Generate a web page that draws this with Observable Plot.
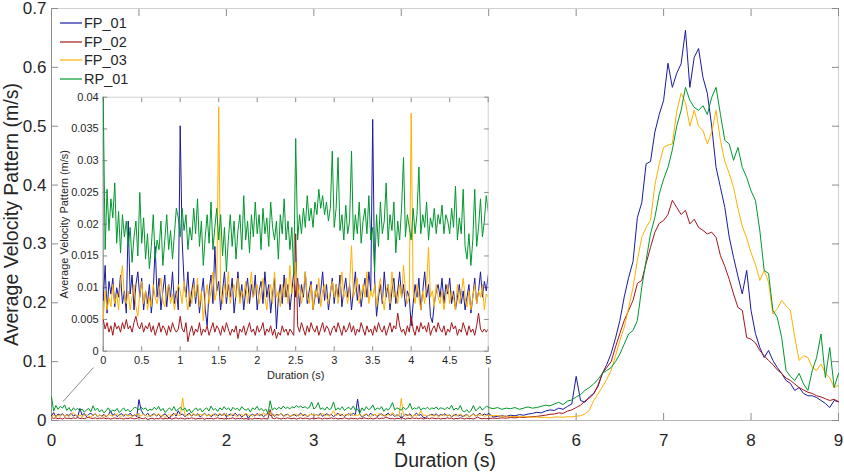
<!DOCTYPE html>
<html><head><meta charset="utf-8">
<script src="https://cdn.jsdelivr.net/npm/d3@7"></script>
<script src="https://cdn.jsdelivr.net/npm/@observablehq/plot@0.6"></script>
<style>
body{margin:0;background:#fff;font-family:"Liberation Sans",Arial,sans-serif;}
#wrap{position:relative;width:844px;height:473px;overflow:hidden;}
#wrap svg{position:absolute;overflow:visible;}
</style></head><body><div id="wrap"></div>
<script>
const seriesNames = ["FP_01","FP_02","FP_03","RP_01"];
const seriesColors = ["#1a1a9e","#a3161b","#ffb000","#00972e"];

// 0–5 s, every 0.025 s
const fp01Fine = [
0.008,0.0135,0.006,0.011,0.009,0.0115,0.007,0.010,0.0085,0.012,0.0075,0.0095,0.006,0.0205,0.009,0.012,0.0065,0.0105,0.0125,0.0085,
0.0115,0.0065,0.0095,0.0075,0.0105,0.006,0.0095,0.0165,0.0085,0.0115,0.0065,0.0095,0.012,0.007,0.0105,0.0085,0.0125,0.0075,0.0095,0.0065,
0.0355,0.0175,0.011,0.0085,0.0125,0.007,0.0095,0.0115,0.0075,0.0105,0.006,0.009,0.0115,0.0065,0.004,0.0095,0.012,0.0075,0.0165,0.0095,
0.011,0.0065,0.0095,0.0125,0.0075,0.0105,0.0085,0.0115,0.006,0.009,0.0125,0.008,0.0105,0.0065,0.0095,0.0115,0.0075,0.0105,0.0085,0.012,
0.0065,0.0095,0.011,0.0075,0.0125,0.0085,0.0105,0.006,0.009,0.0115,0.0035,0.0085,0.0105,0.0075,0.012,0.0085,0.0105,0.0065,0.0095,0.0125,
0.0085,0.0115,0.007,0.0105,0.0085,0.0125,0.0075,0.0095,0.011,0.0065,0.0085,0.0105,0.0075,0.0095,0.0125,0.008,0.0105,0.0065,0.009,0.0115,
0.0075,0.0105,0.0085,0.012,0.007,0.0095,0.0115,0.0085,0.0105,0.0065,0.0095,0.0125,0.008,0.0105,0.007,0.0095,0.0115,0.0085,0.0125,0.0095,
0.0365,0.0115,0.0055,0.0085,0.0105,0.0075,0.0125,0.0085,0.0105,0.0065,0.0095,0.0115,0.0075,0.0095,0.0125,0.0085,0.0105,0.007,0.0095,0.0085,
0.004,0.0075,0.0105,0.0085,0.0115,0.0065,0.0095,0.0125,0.0085,0.0105,0.0055,0.0045,0.0075,0.0095,0.0105,0.0085,0.0115,0.0075,0.0105,0.009,
0.0115,0.0075,0.0095,0.0065,0.0085,0.0105,0.0075,0.0095,0.0065,0.0085,0.0105,0.006,0.0085,0.0115,0.0075,0.0095,0.0125,0.0085,0.011,0.0095,
0.012];
const fp02Fine = [
0.005,0.0035,0.0045,0.003,0.004,0.0025,0.0045,0.0035,0.004,0.003,0.0045,0.0035,0.005,0.0035,0.004,0.003,0.0045,0.0055,0.004,0.0035,
0.0045,0.003,0.004,0.0035,0.0045,0.003,0.004,0.0025,0.0035,0.0045,0.003,0.004,0.0035,0.0025,0.004,0.003,0.0045,0.0035,0.003,0.0035,
0.0055,0.0035,0.003,0.0045,0.0015,0.003,0.004,0.0025,0.0035,0.003,0.0045,0.0025,0.0035,0.003,0.004,0.0025,0.0035,0.0045,0.003,0.004,
0.0035,0.0025,0.004,0.003,0.0045,0.0035,0.0025,0.0035,0.003,0.004,0.002,0.0035,0.003,0.004,0.0025,0.0035,0.0045,0.003,0.0035,0.0025,
0.004,0.003,0.0035,0.0045,0.0025,0.0035,0.003,0.004,0.0025,0.0035,0.002,0.003,0.0025,0.004,0.003,0.0035,0.0025,0.0035,0.003,0.0025,
0.0185,0.004,0.003,0.0045,0.0035,0.0025,0.004,0.003,0.0045,0.0035,0.003,0.004,0.0025,0.0035,0.0045,0.003,0.004,0.0035,0.0025,0.0035,
0.004,0.003,0.0045,0.0035,0.0025,0.004,0.003,0.0035,0.0045,0.003,0.004,0.0025,0.0035,0.003,0.0045,0.0035,0.0025,0.004,0.003,0.0035,
0.0025,0.004,0.003,0.0045,0.0035,0.003,0.004,0.0025,0.0035,0.0045,0.003,0.004,0.0035,0.006,0.004,0.003,0.0035,0.0025,0.004,0.003,
0.0055,0.0035,0.0025,0.004,0.003,0.0045,0.0035,0.004,0.003,0.0045,0.0025,0.0035,0.004,0.003,0.0045,0.0035,0.003,0.004,0.0025,0.0035,
0.003,0.0045,0.0035,0.004,0.0025,0.0035,0.003,0.0045,0.0035,0.0025,0.004,0.003,0.0035,0.0025,0.004,0.006,0.0035,0.003,0.0035,0.003,
0.0035];
const fp03Fine = [
0.005,0.0095,0.0065,0.0085,0.007,0.0105,0.0075,0.009,0.0065,0.011,0.0135,0.0085,0.0075,0.0095,0.0065,0.0085,0.0105,0.007,0.0055,0.009,
0.011,0.0075,0.0095,0.0065,0.0085,0.007,0.0105,0.0085,0.0075,0.0095,0.0115,0.008,0.007,0.0095,0.0105,0.0075,0.009,0.0065,0.0085,0.0105,
0.0095,0.0075,0.011,0.0085,0.0065,0.0095,0.0075,0.0105,0.0085,0.0115,0.007,0.0095,0.0048,0.0085,0.0105,0.0075,0.0095,0.0125,0.008,0.0095,
0.0385,0.0095,0.0075,0.0105,0.0085,0.0125,0.0075,0.0095,0.0105,0.0085,0.0115,0.0075,0.0095,0.0085,0.011,0.0075,0.0095,0.0125,0.0085,0.0095,
0.0105,0.0075,0.009,0.0115,0.0085,0.0065,0.0095,0.0105,0.0075,0.0125,0.0085,0.0095,0.007,0.0105,0.0085,0.0115,0.0075,0.0135,0.009,0.0105,
0.014,0.0085,0.0105,0.0075,0.0095,0.0125,0.0085,0.0075,0.0105,0.0065,0.0095,0.0085,0.0115,0.007,0.0095,0.0105,0.0085,0.0075,0.0095,0.011,
0.0085,0.0105,0.0075,0.0095,0.0125,0.0085,0.0095,0.0075,0.0105,0.0166,0.0085,0.0095,0.0115,0.0075,0.009,0.0105,0.0085,0.0125,0.0075,0.0095,
0.0085,0.0105,0.007,0.0095,0.0115,0.0085,0.0065,0.0095,0.0105,0.0075,0.0125,0.0085,0.0095,0.0075,0.0105,0.0085,0.0135,0.0095,0.0075,0.0085,
0.0375,0.0095,0.0075,0.0105,0.0085,0.0065,0.0095,0.0075,0.0105,0.0164,0.0085,0.0095,0.007,0.0105,0.0085,0.0075,0.0095,0.0065,0.0085,0.0105,
0.0075,0.0095,0.0085,0.0065,0.0105,0.0075,0.009,0.0115,0.0085,0.007,0.0095,0.0065,0.0085,0.0105,0.0075,0.0095,0.0085,0.0105,0.0065,0.009,
0.0085];
const rp01Fine = [
0.04,0.016,0.0255,0.019,0.024,0.021,0.0265,0.017,0.022,0.0155,0.0215,0.018,0.0205,0.0165,0.0195,0.014,0.018,0.0205,0.015,0.025,
0.017,0.021,0.0145,0.0185,0.013,0.0165,0.0215,0.0145,0.0175,0.016,0.0205,0.0135,0.0175,0.0215,0.016,0.019,0.0145,0.0185,0.0225,0.021,
0.018,0.0225,0.019,0.0215,0.016,0.0195,0.0175,0.0225,0.0185,0.024,0.0165,0.0205,0.0135,0.018,0.0215,0.017,0.0235,0.016,0.0195,0.0225,
0.0175,0.0215,0.015,0.0195,0.0125,0.0175,0.0215,0.0165,0.0205,0.0145,0.019,0.0215,0.016,0.0245,0.0175,0.0205,0.0155,0.0215,0.018,0.0235,
0.0185,0.0215,0.016,0.0225,0.0185,0.021,0.0165,0.0235,0.0195,0.0175,0.0205,0.0145,0.0215,0.0185,0.024,0.0175,0.0205,0.016,0.0195,0.012,
0.0335,0.0175,0.0215,0.0185,0.0225,0.0195,0.0245,0.0205,0.0225,0.0195,0.0235,0.0215,0.0255,0.0225,0.0245,0.0215,0.0235,0.0205,0.0225,0.0315,
0.0195,0.0225,0.0305,0.019,0.0215,0.0175,0.023,0.0185,0.0205,0.0315,0.0175,0.0215,0.0185,0.0235,0.017,0.0205,0.0225,0.0185,0.0245,0.0175,
0.0195,0.0125,0.0215,0.0165,0.0235,0.0185,0.0205,0.0265,0.0175,0.0215,0.019,0.0235,0.0155,0.0205,0.0175,0.0225,0.0305,0.018,0.0215,0.0195,
0.0175,0.0225,0.0185,0.0215,0.029,0.0185,0.0215,0.0195,0.0235,0.0175,0.021,0.0195,0.0225,0.0185,0.0215,0.02,0.023,0.0185,0.0215,0.0205,
0.0185,0.0225,0.0195,0.026,0.0175,0.021,0.0185,0.0255,0.0165,0.0145,0.0185,0.0135,0.0175,0.0255,0.0165,0.0195,0.024,0.018,0.0205,0.0245,
0.022];

// 5.05–9 s, every 0.05 s
const fp01Coarse = [
0.006,0.007,0.008,0.007,0.009,0.008,0.01,0.009,0.011,0.012,
0.014,0.013,0.016,0.018,0.017,0.021,0.019,0.024,0.028,0.075,
0.034,0.031,0.04,0.046,0.058,0.08,0.095,0.114,0.14,0.17,
0.21,0.243,0.27,0.345,0.37,0.436,0.44,0.49,0.52,0.544,
0.607,0.566,0.59,0.606,0.663,0.566,0.617,0.632,0.583,0.556,
0.5,0.43,0.396,0.362,0.312,0.277,0.245,0.215,0.255,0.187,
0.148,0.124,0.107,0.119,0.102,0.09,0.08,0.068,0.063,0.051,
0.056,0.046,0.042,0.042,0.039,0.034,0.029,0.022,0.034,0.032];
const fp02Coarse = [
0.004,0.0035,0.0045,0.004,0.005,0.0045,0.0055,0.005,0.006,0.0065,
0.007,0.008,0.009,0.0105,0.011,0.013,0.012,0.016,0.018,0.022,
0.026,0.033,0.038,0.045,0.06,0.08,0.09,0.1,0.125,0.148,
0.17,0.187,0.204,0.233,0.238,0.267,0.294,0.32,0.335,0.34,
0.35,0.374,0.362,0.35,0.357,0.334,0.342,0.328,0.323,0.317,
0.32,0.311,0.28,0.262,0.24,0.215,0.192,0.187,0.141,0.138,
0.132,0.119,0.11,0.102,0.095,0.086,0.08,0.072,0.068,0.062,
0.056,0.052,0.048,0.046,0.042,0.04,0.037,0.034,0.036,0.032];
const fp03Coarse = [
0.008,0.0085,0.007,0.0075,0.0065,0.007,0.006,0.0065,0.006,0.0055,
0.006,0.005,0.0055,0.0045,0.006,0.006,0.0055,0.0065,0.006,0.0075,
0.008,0.011,0.017,0.034,0.045,0.057,0.07,0.085,0.11,0.136,
0.158,0.192,0.226,0.272,0.311,0.328,0.34,0.4,0.436,0.464,
0.468,0.47,0.525,0.556,0.54,0.5,0.527,0.5,0.493,0.47,
0.49,0.527,0.476,0.44,0.42,0.396,0.36,0.33,0.31,0.285,
0.265,0.238,0.255,0.235,0.181,0.19,0.204,0.195,0.187,0.141,
0.102,0.11,0.107,0.09,0.085,0.096,0.08,0.073,0.056,0.06];
const rp01Coarse = [
0.02,0.022,0.019,0.021,0.02,0.022,0.019,0.021,0.023,0.021,
0.022,0.024,0.026,0.025,0.028,0.031,0.027,0.033,0.035,0.04,
0.044,0.051,0.056,0.062,0.07,0.08,0.085,0.09,0.1,0.113,
0.13,0.147,0.153,0.17,0.226,0.272,0.317,0.345,0.385,0.41,
0.43,0.46,0.5,0.527,0.566,0.544,0.532,0.527,0.535,0.52,
0.549,0.566,0.52,0.476,0.47,0.442,0.464,0.43,0.413,0.39,
0.374,0.323,0.255,0.25,0.187,0.175,0.141,0.085,0.075,0.068,
0.08,0.062,0.051,0.085,0.107,0.147,0.073,0.124,0.056,0.08];

const mainXTicks = [0,1,2,3,4,5,6,7,8,9];
const mainYTicks = [0,0.1,0.2,0.3,0.4,0.5,0.6,0.7];
const insetXTicks = [0,0.5,1,1.5,2,2.5,3,3.5,4,4.5,5];
const insetYTicks = [0,0.005,0.01,0.015,0.02,0.025,0.03,0.035,0.04];
// zoom-indicator lines (main-axes units)
const connectors = [{x1:0.13,y1:0.032,x2:0.48,y2:0.09},{x1:5,y1:0,x2:5,y2:0.09}];

const fineSets = [fp01Fine, fp02Fine, fp03Fine, rp01Fine];
const coarseSets = [fp01Coarse, fp02Coarse, fp03Coarse, rp01Coarse];

const allRows = [], insetRows = [];
seriesNames.forEach((name, k) => {
  const f = fineSets[k], c = coarseSets[k];
  f.forEach((v, i) => {
    const r = {t: i * 5 / (f.length - 1), v, name};
    allRows.push(r); insetRows.push(r);
  });
  c.forEach((v, i) => allRows.push({t: 5 + (i + 1) * 4 / c.length, v, name}));
});

const font = '"Liberation Sans", Arial, sans-serif';
const ink = "#262626";
const axisGray = "#8c8c8c";

const main = Plot.plot({
  width: 844, height: 473,
  marginLeft: 51, marginRight: 6, marginTop: 8, marginBottom: 53,
  style: {fontFamily: font, color: ink, background: "transparent", overflow: "visible"},
  x: {domain: [0, 9], axis: null, label: null},
  y: {domain: [0, 0.7], axis: null, label: null},
  color: {domain: seriesNames, range: seriesColors},
  marks: [
    Plot.frame({stroke: "#d0d0d0"}),
    Plot.ruleX([0], {stroke: axisGray}),
    Plot.ruleY([0], {stroke: "#b8b8b8"}),
    Plot.axisX(mainXTicks, {anchor: "bottom", tickSize: 0, tickPadding: 13, fontSize: 17, tickFormat: d => String(d), label: null}),
    Plot.axisX(mainXTicks, {anchor: "bottom", tickSize: -7, tickFormat: () => "", stroke: axisGray, label: null}),
    Plot.axisX(mainXTicks, {anchor: "top", tickSize: -7, tickFormat: () => "", stroke: axisGray, label: null}),
    Plot.axisY(mainYTicks, {anchor: "left", tickSize: 0, tickPadding: 5, fontSize: 17, tickFormat: d => String(d), label: null}),
    Plot.axisY(mainYTicks, {anchor: "left", tickSize: -7, tickFormat: () => "", stroke: axisGray, label: null}),
    Plot.axisY(mainYTicks, {anchor: "right", tickSize: -7, tickFormat: () => "", stroke: axisGray, label: null}),
    Plot.link(connectors, {x1: "x1", y1: "y1", x2: "x2", y2: "y2", stroke: axisGray, strokeWidth: 1}),
    Plot.line(allRows, {x: "t", y: "v", z: "name", stroke: "name", strokeWidth: 1}),
    Plot.text(["Duration (s)"], {text: d => d, frameAnchor: "bottom", textAnchor: "middle", lineAnchor: "middle", dy: 40, fontSize: 19.5, fill: ink}),
    Plot.text(["Average Velocity Pattern (m/s)"], {text: d => d, frameAnchor: "left", textAnchor: "middle", lineAnchor: "middle", rotate: -90, dx: -40, fontSize: 19.5, fill: ink})
  ]
});
main.style.left = "0px"; main.style.top = "0px";
document.getElementById("wrap").appendChild(main);

const inset = Plot.plot({
  width: 450, height: 300,
  marginLeft: 52.7, marginRight: 12.3, marginTop: 8.7, marginBottom: 37.3,
  style: {fontFamily: font, color: ink, background: "transparent", overflow: "visible"},
  x: {domain: [0, 5], axis: null, label: null},
  y: {domain: [0, 0.04], axis: null, label: null},
  color: {domain: seriesNames, range: seriesColors},
  marks: [
    Plot.frame({fill: "white", stroke: "#d0d0d0"}),
    Plot.ruleX([0], {stroke: axisGray}),
    Plot.ruleY([0], {stroke: "#b8b8b8"}),
    Plot.axisX(insetXTicks, {anchor: "bottom", tickSize: 0, tickPadding: 5, fontSize: 11, tickFormat: d => String(d), label: null}),
    Plot.axisX(insetXTicks, {anchor: "bottom", tickSize: -4.5, tickFormat: () => "", stroke: axisGray, label: null}),
    Plot.axisX(insetXTicks, {anchor: "top", tickSize: -4.5, tickFormat: () => "", stroke: axisGray, label: null}),
    Plot.axisY(insetYTicks, {anchor: "left", tickSize: 0, tickPadding: 4.5, fontSize: 11, tickFormat: d => String(d), label: null}),
    Plot.axisY(insetYTicks, {anchor: "left", tickSize: -4.5, tickFormat: () => "", stroke: axisGray, label: null}),
    Plot.axisY(insetYTicks, {anchor: "right", tickSize: -4.5, tickFormat: () => "", stroke: axisGray, label: null}),
    Plot.line(insetRows, {x: "t", y: "v", z: "name", stroke: "name", strokeWidth: 1, clip: true}),
    Plot.text(["Duration (s)"], {text: d => d, frameAnchor: "bottom", textAnchor: "middle", lineAnchor: "middle", dy: 24, fontSize: 11, fill: ink}),
    Plot.text(["Average Velocity Pattern (m/s)"], {text: d => d, frameAnchor: "left", textAnchor: "middle", lineAnchor: "middle", rotate: -90, dx: -39, fontSize: 11, fill: ink})
  ]
});
inset.style.left = "50px"; inset.style.top = "88px";
document.getElementById("wrap").appendChild(inset);

// legend (top-left, no box)
const legend = d3.select("#wrap").append("div")
  .style("position", "absolute").style("left", "60px").style("top", "14px");
seriesNames.forEach((n, i) => {
  const row = legend.append("div").style("display", "flex").style("align-items", "center").style("height", "18.5px");
  const sw = row.append("svg").attr("width", 22).attr("height", 4).style("position", "static");
  sw.append("line").attr("x1", 0).attr("x2", 22).attr("y1", 2).attr("y2", 2)
    .attr("stroke", seriesColors[i]).attr("stroke-width", 1.2);
  row.append("span").style("margin-left", "2px").style("font-size", "14.5px").style("color", ink)
    .style("font-family", font).text(n);
});
</script>
</body></html>
